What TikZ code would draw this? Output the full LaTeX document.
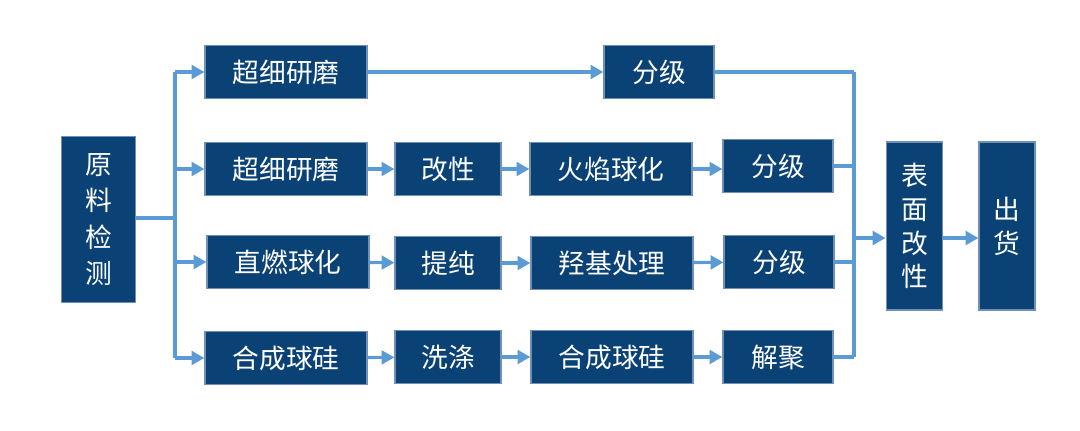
\documentclass[tikz,border=0pt]{standalone}
\usepackage{fontspec}
\setmainfont{Noto Sans CJK SC}
\usepackage{xcolor}
\usetikzlibrary{arrows.meta,positioning,calc}
\definecolor{navy}{HTML}{0B4275}
\definecolor{edgeblue}{HTML}{7090B8}
\definecolor{linkblue}{HTML}{5B9BD5}

\begin{document}
\begin{tikzpicture}[
  x=0.025cm,y=-0.025cm,
  box/.style={draw=edgeblue,fill=navy,line width=0.8pt,text=white,inner sep=0pt,
    minimum height=1.33cm,font=\fontsize{19}{24}\selectfont},
  wide/.style={box,minimum width=4.05cm},
  narrow/.style={box,minimum width=2.65cm},
  tall/.style={box,align=center,minimum width=1.42cm,minimum height=4.2cm},
  link/.style={draw=linkblue,line width=2.2pt},
  flow/.style={link,-{Triangle[length=3.2mm,width=3.4mm]}}
]
\useasboundingbox (0,0) rectangle (1080,430);

\node[tall,minimum width=1.83cm,minimum height=4.13cm,
  font=\fontsize{19}{26}\selectfont] (source) at (98.5,219.5) {原\\料\\检\\测};

% row 1
\node[wide] (grind1) at (286,72) {超细研磨};
\node[box,minimum width=2.75cm] (grade1) at (659,72) {分级};
% row 2
\node[wide] (grind2) at (286,169) {超细研磨};
\node[narrow] (modify2) at (448,169) {改性};
\node[wide] (flame2) at (611,169) {火焰球化};
\node[box,minimum width=2.75cm] (grade2) at (778,166) {分级};
% row 3
\node[wide] (burn3) at (288,262) {直燃球化};
\node[narrow] (purify3) at (448,263) {提纯};
\node[wide] (hydroxy3) at (612,263) {羟基处理};
\node[box,minimum width=2.75cm] (grade3) at (779,262) {分级};
% row 4
\node[wide] (synth4) at (286,358) {合成球硅};
\node[narrow] (wash4) at (448,357) {洗涤};
\node[wide] (synthb4) at (612,357) {合成球硅};
\node[box,minimum width=2.75cm] (deagg4) at (778,357) {解聚};

\node[tall] (surface) at (914.5,226) {表\\面\\改\\性};
\node[tall,minimum width=1.4cm] (ship) at (1007,226) {出\\货};

\coordinate (split) at (175,218);
\coordinate (join) at (854,238);

% fan out
\draw[link] (source.east |- split) -- (split);
\draw[link] (split |- grind1) -- (split |- synth4);
\foreach \n in {grind1,grind2,burn3,synth4}
  \draw[flow] (split |- \n) -- (\n.west);

% chains
\draw[flow] (grind1) -- (grade1);
\draw[flow] (grind2) -- (modify2);
\draw[flow] (modify2) -- (flame2);
\draw[flow] (flame2.east) -- (grade2.west |- flame2);
\draw[flow] (burn3) -- (purify3);
\draw[flow] (purify3) -- (hydroxy3);
\draw[flow] (hydroxy3) -- (grade3);
\draw[flow] (synth4) -- (wash4);
\draw[flow] (wash4) -- (synthb4);
\draw[flow] (synthb4) -- (deagg4);

% merge
\foreach \n in {grade1,grade2,grade3,deagg4}
  \draw[link] (\n.east) -- (join |- \n);
\draw[link] (join |- grade1) -- (join |- deagg4);
\draw[flow] (join) -- (surface.west |- join);
\draw[flow] (surface.east |- join) -- (ship.west |- join);
\end{tikzpicture}
\end{document}
